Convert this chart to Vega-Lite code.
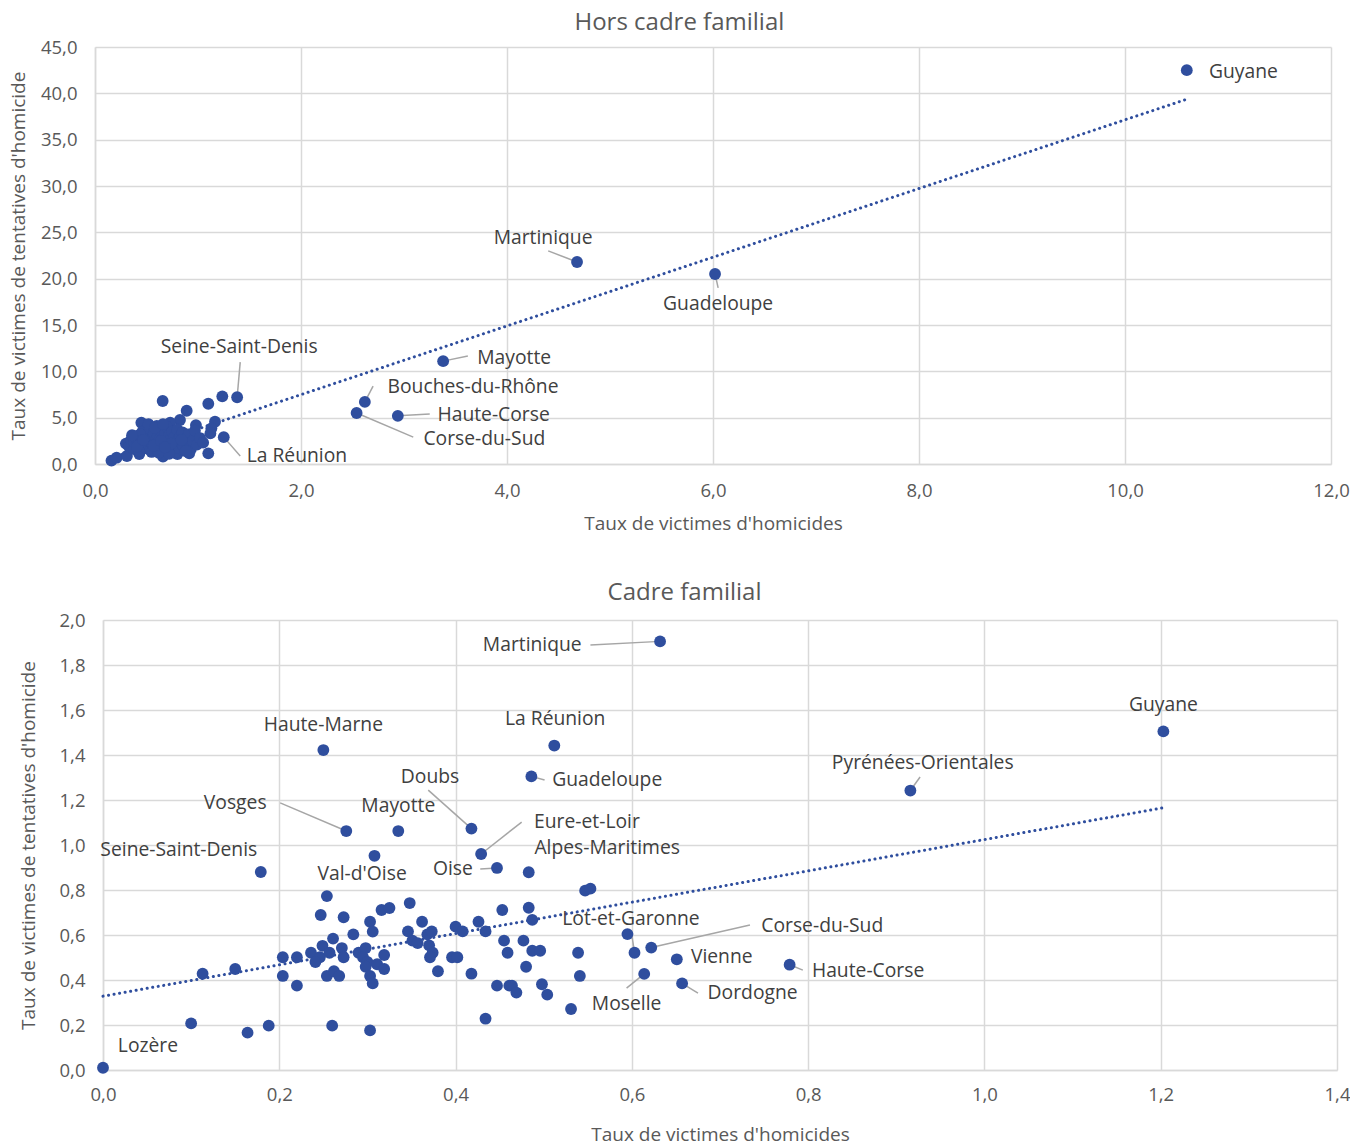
{
  "$schema": "https://vega.github.io/schema/vega-lite/v6.json",
  "padding": {"left": 9, "top": 11, "right": 0, "bottom": 0},
  "background": "white",
  "spacing": 47,
  "config": {
    "view": {"stroke": null},
    "font": "Open Sans",
    "title": {"fontSize": 24, "fontWeight": "normal", "color": "#595959", "font": "Open Sans", "offset": 3, "frame": "bounds"},
    "axis": {
      "labelFont": "Open Sans", "labelFontSize": 18.5, "labelColor": "#595959", "labelFlush": false,
      "titleFont": "Open Sans", "titleFontSize": 19, "titleColor": "#595959", "titleFontWeight": "normal",
      "gridColor": "#d9d9d9", "gridWidth": 1.5, "domainColor": "#d9d9d9", "domainWidth": 1.5, "ticks": false
    }
  },
  "datasets": {
    "hors": [
      {"dep": "Guyane", "x": 10.6, "y": 42.5},
      {"dep": "Martinique", "x": 4.68, "y": 21.8},
      {"dep": "Guadeloupe", "x": 6.02, "y": 20.5},
      {"dep": "Mayotte", "x": 3.38, "y": 11.1},
      {"dep": "Bouches-du-Rhône", "x": 2.62, "y": 6.7},
      {"dep": "Haute-Corse", "x": 2.94, "y": 5.2},
      {"dep": "Corse-du-Sud", "x": 2.54, "y": 5.5},
      {"dep": "Seine-Saint-Denis", "x": 1.38, "y": 7.2},
      {"dep": "La Réunion", "x": 1.25, "y": 2.9},
      {"x": 0.657, "y": 6.8}, {"x": 1.236, "y": 7.3}, {"x": 1.1, "y": 6.5}, {"x": 0.89, "y": 5.75},
      {"x": 1.165, "y": 4.56}, {"x": 1.13, "y": 3.85}, {"x": 1.12, "y": 3.3}, {"x": 0.98, "y": 4.2},
      {"x": 0.825, "y": 4.75}, {"x": 0.73, "y": 4.45}, {"x": 0.45, "y": 4.45}, {"x": 1.1, "y": 1.15},
      {"x": 0.915, "y": 1.15}, {"x": 0.16, "y": 0.36}, {"x": 0.21, "y": 0.68}, {"x": 0.31, "y": 0.86},
      {"x": 0.43, "y": 1.08}, {"x": 0.66, "y": 0.79}, {"x": 0.8, "y": 1.08},
      {"x": 0.3, "y": 2.2}, {"x": 0.33, "y": 1.9}, {"x": 0.35, "y": 2.6}, {"x": 0.38, "y": 1.6},
      {"x": 0.4, "y": 3.0}, {"x": 0.42, "y": 2.1}, {"x": 0.43, "y": 1.4}, {"x": 0.45, "y": 2.8},
      {"x": 0.46, "y": 3.5}, {"x": 0.47, "y": 1.9}, {"x": 0.48, "y": 2.4}, {"x": 0.5, "y": 1.7},
      {"x": 0.5, "y": 3.1}, {"x": 0.51, "y": 2.6}, {"x": 0.52, "y": 2.0}, {"x": 0.53, "y": 3.8},
      {"x": 0.54, "y": 1.5}, {"x": 0.55, "y": 2.3}, {"x": 0.56, "y": 2.9}, {"x": 0.57, "y": 3.3},
      {"x": 0.58, "y": 1.8}, {"x": 0.59, "y": 2.5}, {"x": 0.6, "y": 2.1}, {"x": 0.6, "y": 4.1},
      {"x": 0.61, "y": 3.0}, {"x": 0.62, "y": 1.6}, {"x": 0.63, "y": 2.7}, {"x": 0.64, "y": 3.6},
      {"x": 0.65, "y": 2.2}, {"x": 0.66, "y": 1.9}, {"x": 0.67, "y": 2.9}, {"x": 0.68, "y": 3.3},
      {"x": 0.69, "y": 2.4}, {"x": 0.7, "y": 1.5}, {"x": 0.7, "y": 4.0}, {"x": 0.71, "y": 2.0},
      {"x": 0.72, "y": 3.1}, {"x": 0.73, "y": 2.6}, {"x": 0.74, "y": 1.8}, {"x": 0.75, "y": 3.5},
      {"x": 0.76, "y": 2.3}, {"x": 0.77, "y": 2.9}, {"x": 0.78, "y": 1.3}, {"x": 0.79, "y": 2.0},
      {"x": 0.8, "y": 3.7}, {"x": 0.81, "y": 2.6}, {"x": 0.82, "y": 1.7}, {"x": 0.83, "y": 3.0},
      {"x": 0.84, "y": 2.3}, {"x": 0.85, "y": 3.4}, {"x": 0.86, "y": 1.9}, {"x": 0.88, "y": 2.7},
      {"x": 0.9, "y": 2.2}, {"x": 0.91, "y": 3.2}, {"x": 0.93, "y": 1.6}, {"x": 0.95, "y": 2.5},
      {"x": 0.97, "y": 3.6}, {"x": 0.99, "y": 2.1}, {"x": 1.02, "y": 2.8}, {"x": 1.05, "y": 2.3},
      {"x": 0.38, "y": 2.4}, {"x": 0.44, "y": 3.2}, {"x": 0.52, "y": 4.3}, {"x": 0.58, "y": 3.9},
      {"x": 0.66, "y": 4.3}, {"x": 0.36, "y": 3.1}, {"x": 0.55, "y": 1.3}, {"x": 0.62, "y": 1.2},
      {"x": 0.72, "y": 1.1}, {"x": 0.88, "y": 1.4}, {"x": 0.41, "y": 1.9}, {"x": 0.47, "y": 2.6},
      {"x": 0.57, "y": 2.0}, {"x": 0.64, "y": 2.5}, {"x": 0.74, "y": 2.2}, {"x": 0.84, "y": 2.6},
      {"x": 0.68, "y": 1.8}
    ],
    "horsLab": [
      {"label": "Guyane", "lx": 11.15, "ly": 42.3},
      {"label": "Martinique", "lx": 4.35, "ly": 24.4, "x": 4.68, "y": 21.8, "ex": 4.4, "ey": 23.0},
      {"label": "Guadeloupe", "lx": 6.05, "ly": 17.3, "x": 6.02, "y": 20.5, "ex": 6.05, "ey": 19.0},
      {"label": "Mayotte", "lx": 4.07, "ly": 11.4, "x": 3.38, "y": 11.1, "ex": 3.62, "ey": 11.65},
      {"label": "Bouches-du-Rhône", "lx": 3.67, "ly": 8.3, "x": 2.62, "y": 6.7, "ex": 2.7, "ey": 8.4},
      {"label": "Haute-Corse", "lx": 3.87, "ly": 5.3, "x": 2.94, "y": 5.2, "ex": 3.25, "ey": 5.4},
      {"label": "Corse-du-Sud", "lx": 3.78, "ly": 2.7, "x": 2.54, "y": 5.5, "ex": 3.09, "ey": 2.9},
      {"label": "Seine-Saint-Denis", "lx": 1.4, "ly": 12.6, "x": 1.38, "y": 7.2, "ex": 1.41, "ey": 11.0},
      {"label": "La Réunion", "lx": 1.96, "ly": 0.86, "x": 1.25, "y": 2.9, "ex": 1.41, "ey": 0.86}
    ],
    "cadre": [
      {"dep": "Martinique", "x": 0.632, "y": 1.905},
      {"dep": "Guyane", "x": 1.203, "y": 1.505},
      {"dep": "La Réunion", "x": 0.512, "y": 1.442},
      {"dep": "Haute-Marne", "x": 0.25, "y": 1.422},
      {"dep": "Guadeloupe", "x": 0.486, "y": 1.305},
      {"dep": "Pyrénées-Orientales", "x": 0.916, "y": 1.242},
      {"dep": "Vosges", "x": 0.276, "y": 1.062},
      {"dep": "Mayotte", "x": 0.335, "y": 1.062},
      {"dep": "Doubs", "x": 0.418, "y": 1.073},
      {"dep": "Eure-et-Loir", "x": 0.429, "y": 0.96},
      {"dep": "Seine-Saint-Denis", "x": 0.179, "y": 0.88},
      {"dep": "Val-d'Oise", "x": 0.308, "y": 0.952},
      {"dep": "Oise", "x": 0.447, "y": 0.898},
      {"dep": "Alpes-Maritimes", "x": 0.483, "y": 0.879},
      {"dep": "Lot-et-Garonne", "x": 0.603, "y": 0.521},
      {"dep": "Corse-du-Sud", "x": 0.622, "y": 0.544},
      {"dep": "Vienne", "x": 0.651, "y": 0.492},
      {"dep": "Haute-Corse", "x": 0.779, "y": 0.468},
      {"dep": "Dordogne", "x": 0.657, "y": 0.385},
      {"dep": "Moselle", "x": 0.614, "y": 0.427},
      {"dep": "Lozère", "x": 0.0, "y": 0.01},
      {"x": 0.595, "y": 0.604}, {"x": 0.254, "y": 0.773}, {"x": 0.247, "y": 0.689}, {"x": 0.273, "y": 0.679},
      {"x": 0.348, "y": 0.742}, {"x": 0.316, "y": 0.711}, {"x": 0.325, "y": 0.72}, {"x": 0.303, "y": 0.659},
      {"x": 0.306, "y": 0.615}, {"x": 0.284, "y": 0.603}, {"x": 0.261, "y": 0.584}, {"x": 0.362, "y": 0.659},
      {"x": 0.346, "y": 0.616}, {"x": 0.368, "y": 0.603}, {"x": 0.373, "y": 0.616}, {"x": 0.4, "y": 0.637},
      {"x": 0.408, "y": 0.616}, {"x": 0.426, "y": 0.659}, {"x": 0.434, "y": 0.616}, {"x": 0.453, "y": 0.711},
      {"x": 0.455, "y": 0.575}, {"x": 0.459, "y": 0.521}, {"x": 0.351, "y": 0.575}, {"x": 0.357, "y": 0.564},
      {"x": 0.37, "y": 0.554}, {"x": 0.374, "y": 0.521}, {"x": 0.371, "y": 0.501}, {"x": 0.396, "y": 0.501},
      {"x": 0.402, "y": 0.501}, {"x": 0.38, "y": 0.439}, {"x": 0.418, "y": 0.428}, {"x": 0.447, "y": 0.375},
      {"x": 0.461, "y": 0.375}, {"x": 0.434, "y": 0.228}, {"x": 0.204, "y": 0.501}, {"x": 0.22, "y": 0.501},
      {"x": 0.204, "y": 0.418}, {"x": 0.22, "y": 0.375}, {"x": 0.236, "y": 0.521}, {"x": 0.249, "y": 0.552},
      {"x": 0.246, "y": 0.501}, {"x": 0.241, "y": 0.48}, {"x": 0.257, "y": 0.521}, {"x": 0.271, "y": 0.542},
      {"x": 0.273, "y": 0.501}, {"x": 0.254, "y": 0.418}, {"x": 0.262, "y": 0.439}, {"x": 0.268, "y": 0.418},
      {"x": 0.29, "y": 0.521}, {"x": 0.298, "y": 0.542}, {"x": 0.295, "y": 0.501}, {"x": 0.3, "y": 0.48},
      {"x": 0.298, "y": 0.459}, {"x": 0.303, "y": 0.418}, {"x": 0.306, "y": 0.385}, {"x": 0.311, "y": 0.47},
      {"x": 0.319, "y": 0.449}, {"x": 0.319, "y": 0.511}, {"x": 0.113, "y": 0.428}, {"x": 0.15, "y": 0.449},
      {"x": 0.1, "y": 0.207}, {"x": 0.164, "y": 0.166}, {"x": 0.188, "y": 0.197}, {"x": 0.26, "y": 0.197},
      {"x": 0.303, "y": 0.176}, {"x": 0.547, "y": 0.797}, {"x": 0.553, "y": 0.806}, {"x": 0.483, "y": 0.721},
      {"x": 0.487, "y": 0.667}, {"x": 0.477, "y": 0.575}, {"x": 0.487, "y": 0.53}, {"x": 0.496, "y": 0.53},
      {"x": 0.539, "y": 0.521}, {"x": 0.48, "y": 0.459}, {"x": 0.541, "y": 0.418}, {"x": 0.464, "y": 0.375},
      {"x": 0.469, "y": 0.344}, {"x": 0.498, "y": 0.381}, {"x": 0.504, "y": 0.335}, {"x": 0.531, "y": 0.271}
    ],
    "cadreLab": [
      {"label": "Martinique", "lx": 0.487, "ly": 1.889, "x": 0.632, "y": 1.905, "ex": 0.553, "ey": 1.889},
      {"label": "Guyane", "lx": 1.203, "ly": 1.622},
      {"label": "La Réunion", "lx": 0.513, "ly": 1.56},
      {"label": "Haute-Marne", "lx": 0.25, "ly": 1.533},
      {"label": "Guadeloupe", "lx": 0.572, "ly": 1.289, "x": 0.486, "y": 1.305, "ex": 0.501, "ey": 1.289},
      {"label": "Pyrénées-Orientales", "lx": 0.93, "ly": 1.364, "x": 0.916, "y": 1.242, "ex": 0.927, "ey": 1.302},
      {"label": "Vosges", "lx": 0.15, "ly": 1.187, "x": 0.276, "y": 1.062, "ex": 0.201, "ey": 1.187},
      {"label": "Mayotte", "lx": 0.335, "ly": 1.173},
      {"label": "Doubs", "lx": 0.371, "ly": 1.302, "x": 0.418, "y": 1.073, "ex": 0.369, "ey": 1.244},
      {"label": "Eure-et-Loir", "lx": 0.549, "ly": 1.102, "x": 0.429, "y": 0.96, "ex": 0.475, "ey": 1.102},
      {"label": "Alpes-Maritimes", "lx": 0.572, "ly": 0.987},
      {"label": "Seine-Saint-Denis", "lx": 0.086, "ly": 0.978},
      {"label": "Val-d'Oise", "lx": 0.294, "ly": 0.871},
      {"label": "Oise", "lx": 0.397, "ly": 0.893, "x": 0.447, "y": 0.898, "ex": 0.428, "ey": 0.893},
      {"label": "Lot-et-Garonne", "lx": 0.599, "ly": 0.671, "x": 0.603, "y": 0.521, "ex": 0.6, "ey": 0.6},
      {"label": "Corse-du-Sud", "lx": 0.816, "ly": 0.64, "x": 0.622, "y": 0.544, "ex": 0.734, "ey": 0.644},
      {"label": "Vienne", "lx": 0.702, "ly": 0.502},
      {"label": "Haute-Corse", "lx": 0.868, "ly": 0.44, "x": 0.779, "y": 0.468, "ex": 0.794, "ey": 0.444},
      {"label": "Dordogne", "lx": 0.737, "ly": 0.342, "x": 0.657, "y": 0.385, "ex": 0.675, "ey": 0.342},
      {"label": "Moselle", "lx": 0.594, "ly": 0.293, "x": 0.614, "y": 0.427, "ex": 0.594, "ey": 0.364},
      {"label": "Lozère", "lx": 0.051, "ly": 0.107}
    ]
  },
  "vconcat": [
    {
      "title": "Hors cadre familial",
      "width": 1236,
      "height": 417,
      "layer": [
        {
          "data": {"name": "horsLab"},
          "transform": [{"filter": "isValid(datum.ex)"}],
          "mark": {"type": "rule", "color": "#a6a6a6", "strokeWidth": 1.5},
          "encoding": {
            "x": {"field": "x", "type": "quantitative"},
            "y": {"field": "y", "type": "quantitative"},
            "x2": {"field": "ex"},
            "y2": {"field": "ey"}
          }
        },
        {
          "data": {"name": "hors"},
          "transform": [{"regression": "y", "on": "x"}],
          "mark": {"type": "line", "color": "#2F4E9E", "strokeWidth": 3, "strokeDash": [0.1, 5.5], "strokeCap": "round"},
          "encoding": {
            "x": {"field": "x", "type": "quantitative"},
            "y": {"field": "y", "type": "quantitative"}
          }
        },
        {
          "data": {"name": "hors"},
          "mark": {"type": "circle", "color": "#2F4E9E", "opacity": 1, "size": 140},
          "encoding": {
            "x": {"field": "x", "type": "quantitative", "scale": {"domain": [0, 12], "nice": false},
              "axis": {"title": "Taux de victimes d'homicides", "values": [0, 2, 4, 6, 8, 10, 12], "labelExpr": "replace(format(datum.value, '.1f'), '.', ',')", "labelPadding": 17, "titlePadding": 15}},
            "y": {"field": "y", "type": "quantitative", "scale": {"domain": [0, 45], "nice": false},
              "axis": {"title": "Taux de victimes de tentatives d'homicide", "values": [0, 5, 10, 15, 20, 25, 30, 35, 40, 45], "labelExpr": "replace(format(datum.value, '.1f'), '.', ',')", "labelPadding": 18, "titlePadding": 12}}
          }
        },
        {
          "data": {"name": "horsLab"},
          "mark": {"type": "text", "fontSize": 19.3, "color": "#404040", "align": "center", "baseline": "middle", "font": "Open Sans"},
          "encoding": {
            "x": {"field": "lx", "type": "quantitative"},
            "y": {"field": "ly", "type": "quantitative"},
            "text": {"field": "label"}
          }
        }
      ]
    },
    {
      "title": {"text": "Cadre familial", "offset": 6},
      "width": 1242,
      "height": 450,
      "layer": [
        {
          "data": {"name": "cadreLab"},
          "transform": [{"filter": "isValid(datum.ex)"}],
          "mark": {"type": "rule", "color": "#a6a6a6", "strokeWidth": 1.5},
          "encoding": {
            "x": {"field": "x", "type": "quantitative"},
            "y": {"field": "y", "type": "quantitative"},
            "x2": {"field": "ex"},
            "y2": {"field": "ey"}
          }
        },
        {
          "data": {"name": "cadre"},
          "transform": [{"regression": "y", "on": "x"}],
          "mark": {"type": "line", "color": "#2F4E9E", "strokeWidth": 3, "strokeDash": [0.1, 5.5], "strokeCap": "round"},
          "encoding": {
            "x": {"field": "x", "type": "quantitative"},
            "y": {"field": "y", "type": "quantitative"}
          }
        },
        {
          "data": {"name": "cadre"},
          "mark": {"type": "circle", "color": "#2F4E9E", "opacity": 1, "size": 140},
          "encoding": {
            "x": {"field": "x", "type": "quantitative", "scale": {"domain": [0, 1.4], "nice": false, "range": [8, 1242]},
              "axis": {"title": "Taux de victimes d'homicides", "values": [0, 0.2, 0.4, 0.6, 0.8, 1.0, 1.2, 1.4], "labelExpr": "replace(format(datum.value, '.1f'), '.', ',')", "labelPadding": 15, "titlePadding": 22}},
            "y": {"field": "y", "type": "quantitative", "scale": {"domain": [0, 2], "nice": false},
              "axis": {"title": "Taux de victimes de tentatives d'homicide", "offset": -8, "values": [0, 0.2, 0.4, 0.6, 0.8, 1.0, 1.2, 1.4, 1.6, 1.8, 2.0], "labelExpr": "replace(format(datum.value, '.1f'), '.', ',')", "labelPadding": 18, "titlePadding": 21}}
          }
        },
        {
          "data": {"name": "cadreLab"},
          "mark": {"type": "text", "fontSize": 19.3, "color": "#404040", "align": "center", "baseline": "middle", "font": "Open Sans"},
          "encoding": {
            "x": {"field": "lx", "type": "quantitative"},
            "y": {"field": "ly", "type": "quantitative"},
            "text": {"field": "label"}
          }
        }
      ]
    }
  ]
}
